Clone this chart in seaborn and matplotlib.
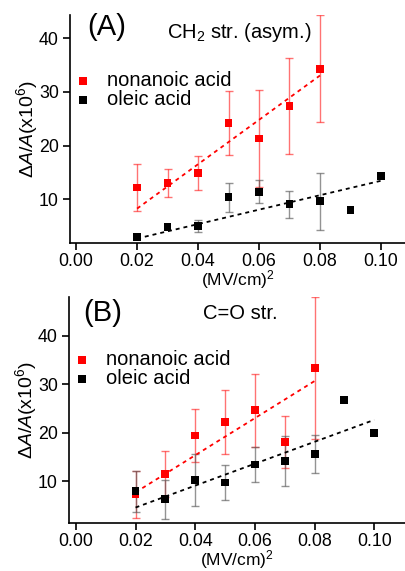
import numpy as np
import pandas as pd
import matplotlib
matplotlib.use("Agg")
import matplotlib.pyplot as plt
import seaborn as sns

# --- DATOS ---
campo = [0.02, 0.03, 0.04, 0.05, 0.06, 0.07, 0.08, 0.09, 0.10]

# (A) CH2 str. (asym.)
a_nonan = [12.2, 13.1, 14.9, 24.2, 21.3, 27.4, 34.3]
a_nonan_err = [4.4, 2.6, 3.2, 5.9, 9.0, 8.9, 10.0]
a_oleic = [3.0, 4.9, 5.0, 10.4, 11.4, 9.1, 9.6, 7.95, 14.3]
a_oleic_err = [np.nan, np.nan, 1.1, 2.7, 2.1, 2.5, 5.3, np.nan, np.nan]

# (B) C=O str.
b_nonan = [7.25, 11.4, 19.4, 22.2, 24.6, 18.05, 33.3]
b_nonan_err = [4.85, 4.7, 5.5, 6.6, 7.5, 5.3, 14.6]
b_oleic = [7.9, 6.2, 10.2, 9.7, 13.4, 14.1, 15.6, 26.8, 20.0]
b_oleic_err = [4.2, 4.05, 5.4, 3.6, 3.65, 5.1, 3.9, np.nan, np.nan]

xticks = [0.00, 0.02, 0.04, 0.06, 0.08, 0.10]
yticks = [10, 20, 30, 40]

sns.set_style("ticks")
plt.rcParams['font.family'] = ['Liberation Sans', 'DejaVu Sans']
plt.rcParams['mathtext.fontset'] = 'custom'
plt.rcParams['mathtext.rm'] = 'Liberation Sans'
plt.rcParams['mathtext.it'] = 'Liberation Sans:italic'
for k in ['text.color', 'axes.labelcolor', 'xtick.color', 'ytick.color', 'axes.edgecolor']:
    plt.rcParams[k] = 'black'

ROJO = '#ff0000'
NEGRO = '#000000'


def serie(ax, y, err, color, ecolor, label):
    x = np.array(campo[:len(y)])
    y = np.array(y, dtype=float)
    err = np.array(err, dtype=float)
    df = pd.DataFrame({'x': x, 'y': y, 'err': err})
    con_err = df.dropna()
    ax.errorbar(con_err['x'], con_err['y'], yerr=con_err['err'], fmt='none',
                ecolor=ecolor, elinewidth=1.0, capsize=3, capthick=1.0, zorder=2)
    # ajuste lineal por el origen
    k = np.sum(x * y) / np.sum(x * x)
    xf = np.array([x.min(), x.max()])
    ax.plot(xf, k * xf, color=color, lw=1.3, linestyle=(0, (2.2, 2.2)), zorder=3)
    sns.scatterplot(data=df, x='x', y='y', ax=ax, color=color, marker='s', s=32,
                    edgecolor='none', label=label, zorder=4)


fig = plt.figure(figsize=(4.05, 5.71), dpi=100)
ax_a = fig.add_axes([70 / 405, 1 - 243 / 571, 335 / 405, 228 / 571])
ax_b = fig.add_axes([69 / 405, 1 - 523 / 571, 336 / 405, 226 / 571])

paneles = [
    (ax_a, a_nonan, a_nonan_err, a_oleic, a_oleic_err, (-0.002, 0.1079), (1.86, 44.3),
     '(A)', 'CH$_2$ str. (asym.)', 0.29, 0.925, 0.947, 0.755),
    (ax_b, b_nonan, b_nonan_err, b_oleic, b_oleic_err, (-0.0023, 0.1103), (1.33, 48.0),
     '(B)', 'C=O str.', 0.399, 0.929, 0.929, 0.766),
]

for ax, yn, en, yo, eo, xl, yl, letra, titulo, tx, ty, ly, legy in paneles:
    serie(ax, yn, en, ROJO, (1, 0, 0, 0.55), 'nonanoic acid')
    serie(ax, yo, eo, NEGRO, (0.35, 0.35, 0.35, 0.65), 'oleic acid')
    ax.set_xlim(*xl)
    ax.set_ylim(*yl)
    ax.set_xticks(xticks)
    ax.set_xticklabels([f'{t:.2f}' for t in xticks])
    ax.set_yticks(yticks)
    sns.despine(ax=ax)
    for s in ['left', 'bottom']:
        ax.spines[s].set_linewidth(1.2)
    ax.tick_params(axis='both', labelsize=12.8, width=1.2, length=5, direction='out',
                   pad=3)
    ax.tick_params(axis='x', pad=2)
    ax.set_xlabel('(MV/cm)$^2$', fontsize=12.5, labelpad=-1.2)
    ax.set_ylabel(r'$\Delta$$\it{A/A}$(x10$^6$)', fontsize=14, labelpad=-1)
    ax.text(0.051 if letra == '(A)' else 0.042, ly, letra, transform=ax.transAxes,
            fontsize=21, va='center', ha='left')
    ax.text(tx, ty, titulo, transform=ax.transAxes, fontsize=14.5, va='center', ha='left')
    ax.legend(loc='upper left', bbox_to_anchor=(0.012, legy), frameon=False,
              fontsize=14.5, handlelength=0.9, handletextpad=0.75, labelspacing=0.0,
              borderaxespad=0, borderpad=0, markerscale=1.0)

fig.savefig('out.png', dpi=100)
